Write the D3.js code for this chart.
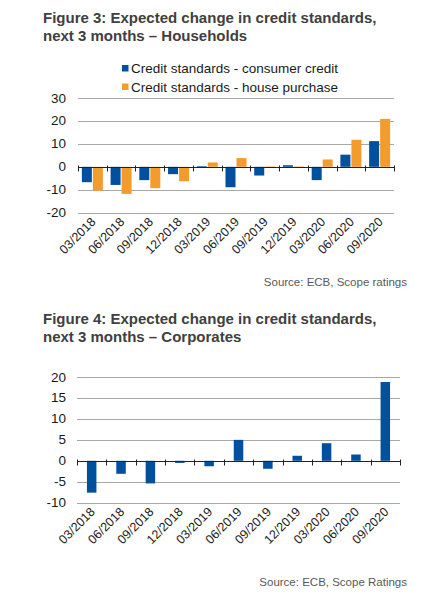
<!DOCTYPE html>
<html><head><meta charset="utf-8">
<script src="https://cdn.jsdelivr.net/npm/d3@7/dist/d3.min.js"></script>
<style>body{margin:0;background:#fff;} svg{display:block;font-family:"Liberation Sans",Arial,sans-serif;}</style>
</head><body>
<svg id="c" width="430" height="601"></svg>
<script>
const categories = ["03/2018","06/2018","09/2018","12/2018","03/2019","06/2019","09/2019","12/2019","03/2020","06/2020","09/2020"];
const consumerCredit = [-6.7,-7.9,-5.8,-3.2,0.3,-8.9,-3.8,0.7,-5.8,5.3,11.2];
const housePurchase  = [-10.4,-11.8,-9.3,-6.3,1.9,3.8,0.2,0.2,3.2,11.8,20.9];
const corporates     = [-7.6,-3.1,-5.4,-0.5,-1.3,5.0,-1.9,1.2,4.2,1.5,18.8];
const ticks1 = [-20,-10,0,10,20,30];
const ticks2 = [-10,-5,0,5,10,15,20];
const seriesNames = ["Credit standards - consumer credit","Credit standards - house purchase"];
const colors = ["#00509d","#f39c2c"];

const svg = d3.select("#c");
const titleColor = "#404040";

function title(lines, y0){
  lines.forEach((t,i)=>svg.append("text").attr("x",43).attr("y",y0+i*18)
    .attr("font-size",15).attr("font-weight","bold").attr("fill",titleColor).text(t));
}
function source(t,y){
  svg.append("text").attr("x",407).attr("y",y).attr("text-anchor","end")
    .attr("font-size",11.5).attr("fill","#595959").text(t);
}

function chart(opt){
  const x = d3.scaleBand().domain(categories).range([opt.x0,opt.x1]);
  const y = d3.scaleLinear().domain(opt.domain).range([opt.yb,opt.yt]);
  const g = svg.append("g");
  // gridlines
  g.selectAll(".grid").data(opt.ticks.filter(d=>d!==0)).join("line")
    .attr("x1",opt.x0).attr("x2",opt.x1).attr("y1",d=>Math.round(y(d))+0.5).attr("y2",d=>Math.round(y(d))+0.5)
    .attr("stroke","#a8a8a8").attr("stroke-width",1);
  // y labels
  g.selectAll(".yl").data(opt.ticks).join("text")
    .attr("x",66).attr("y",d=>y(d)+4.5).attr("text-anchor","end")
    .attr("font-size",13.5).attr("fill","#1a1a1a").text(d=>d);
  // bars
  opt.series.forEach((s,si)=>{
    const n = opt.series.length;
    const bw = opt.bw;
    g.selectAll(".b"+si).data(s).join("rect")
      .attr("x",(d,i)=>x(categories[i]) + x.bandwidth()/2 - (n*bw + (n-1)*opt.gap)/2 + si*(bw+opt.gap))
      .attr("width",bw)
      .attr("y",d=>y(Math.max(0,d)))
      .attr("height",d=>Math.abs(y(d)-y(0)))
      .attr("fill",colors[si]);
  });
  // zero axis
  const y0 = Math.round(y(0))+0.5;
  g.append("line").attr("x1",opt.x0).attr("x2",opt.x1).attr("y1",y0).attr("y2",y0)
    .attr("stroke","#222").attr("stroke-width",1);
  const bounds = categories.map(c=>x(c)).concat([opt.x1]);
  g.selectAll(".tk").data(bounds).join("line")
    .attr("x1",d=>Math.round(d)+0.5).attr("x2",d=>Math.round(d)+0.5)
    .attr("y1",y0-2).attr("y2",y0+4).attr("stroke","#222");
  // x labels
  g.selectAll(".xl").data(categories).join("text")
    .attr("transform",d=>`translate(${x(d)+x.bandwidth()/2+4},${opt.yb+10}) rotate(-45)`)
    .attr("text-anchor","end").attr("font-size",12.5).attr("fill","#1a1a1a").text(d=>d);
}

title(["Figure 3: Expected change in credit standards,","next 3 months \u2013 Households"],23);
// legend
seriesNames.forEach((n,i)=>{
  const ly = 73 + i*18.5;
  svg.append("rect").attr("x",122).attr("y",ly-8).attr("width",6.5).attr("height",6.5).attr("fill",colors[i]);
  svg.append("text").attr("x",131).attr("y",ly).attr("font-size",13.5).attr("fill","#1a1a1a").text(n);
});
chart({x0:78,x1:394,yt:98,yb:212.7,domain:[-20,30],ticks:ticks1,series:[consumerCredit,housePurchase],bw:10,gap:1});
source("Source: ECB, Scope ratings",286);

title(["Figure 4: Expected change in credit standards,","next 3 months \u2013 Corporates"],323.5);
chart({x0:77,x1:400,yt:377,yb:502.7,domain:[-10,20],ticks:ticks2,series:[corporates],bw:9.5,gap:0});
source("Source: ECB, Scope Ratings",586);
</script>
</body></html>
